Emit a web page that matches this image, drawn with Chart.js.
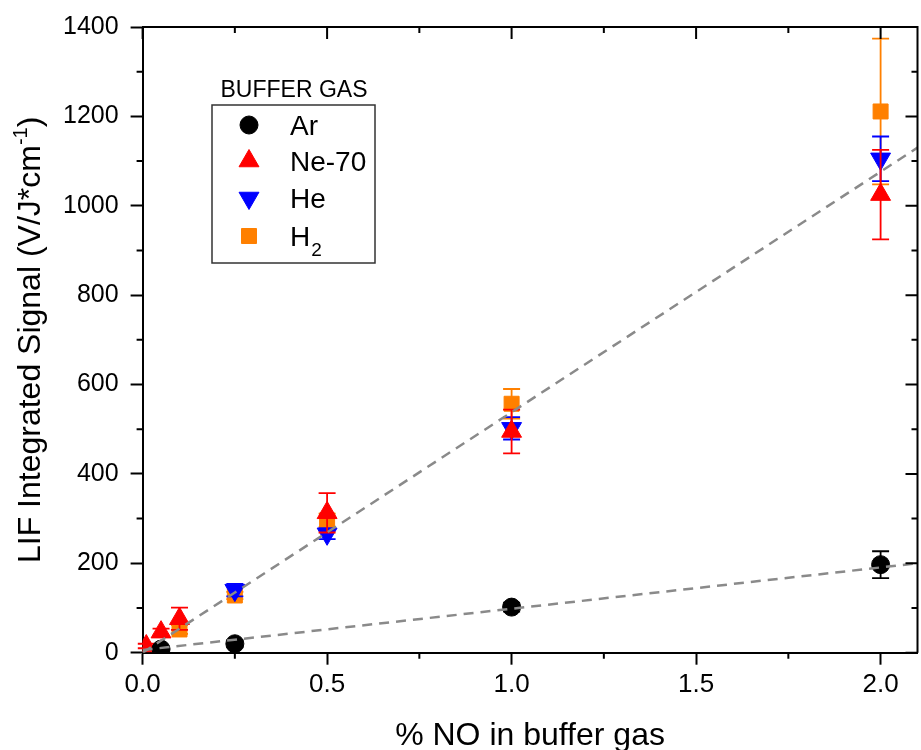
<!DOCTYPE html>
<html>
<head>
<meta charset="utf-8">
<script src="https://cdn.jsdelivr.net/npm/chart.js@4.4.1/dist/chart.umd.min.js"></script>
<style>
  html, body { margin: 0; padding: 0; background: #fff; overflow: hidden; }
  canvas { display: block; }
</style>
</head>
<body>
<canvas id="chart" width="930" height="750"></canvas>
<script>
const FONT = "'Liberation Sans', Arial, sans-serif";

// tick positions
const xTicks = [0, 0.5, 1.0, 1.5, 2.0];
const xMinor = [0.25, 0.75, 1.25, 1.75];
const yTicks = [0, 200, 400, 600, 800, 1000, 1200, 1400];
const yMinor = [100, 300, 500, 700, 900, 1100, 1300];

// % NO, signal, error
const arX = [0.05, 0.25, 1.0, 2.0];
const arY = [8, 20, 102, 197];
const arErr = [4, 8, 10, 30];

const neX = [0.01, 0.05, 0.1, 0.5, 1.0, 2.0];
const neY = [15, 46, 76, 313, 495, 1025];
const neErr = [5, 8, 25, 44, 49, 100];

const heX = [0.25, 0.5, 1.0, 2.0];
const heY = [140, 266, 502, 1105];
const heErr = [14, 12, 25, 50];

const h2X = [0.1, 0.25, 0.5, 1.0, 2.0];
const h2Y = [52, 128, 296, 557, 1211];
const h2Err = [10, 8, 15, 33, 163];

// linear fits
const fitX = [0, 2.1];
const fitHigh = [0, 1130];
const fitLow = [6, 200];

const pts = (xs, ys) => xs.map((v, i) => ({ x: v, y: ys[i] }));

function series(label, xs, ys, errs, color, style, radius, rotation) {
  return {
    label, data: pts(xs, ys), errors: errs,
    showLine: false,
    pointStyle: style, pointRadius: radius, pointHoverRadius: radius,
    pointRotation: rotation || 0,
    backgroundColor: color, borderColor: color, pointBorderWidth: 1
  };
}

function fit(ys) {
  return {
    label: "fit", data: pts(fitX, ys), showLine: true, pointRadius: 0,
    borderColor: "#8a8a8a", borderWidth: 2.5, borderDash: [10, 7], fill: false
  };
}

const series_ = [
  series("Ar", arX, arY, arErr, "#000000", "circle", 9),
  series("Ne-70", neX, neY, neErr, "#ff0000", "triangle", 11.5),
  series("He", heX, heY, heErr, "#0000ff", "triangle", 11.5, 180),
  series("H2", h2X, h2Y, h2Err, "#ff8000", "rect", 10.6)
];

// error bars under each series' own markers
const errorBars = {
  id: "errorBars",
  beforeDatasetDraw(chart, args) {
    const ds = chart.data.datasets[args.index];
    if (!ds.errors) return;
    const { ctx } = chart;
    const y = chart.scales.y;
    ctx.save();
    ctx.strokeStyle = ds.borderColor;
    ctx.lineWidth = 1.8;
    ctx.beginPath();
    args.meta.data.forEach((pt, i) => {
      const v = ds.data[i].y, e = ds.errors[i];
      const top = y.getPixelForValue(v + e), bot = y.getPixelForValue(v - e);
      ctx.moveTo(pt.x, top); ctx.lineTo(pt.x, bot);
      ctx.moveTo(pt.x - 8.5, top); ctx.lineTo(pt.x + 8.5, top);
      ctx.moveTo(pt.x - 8.5, bot); ctx.lineTo(pt.x + 8.5, bot);
    });
    ctx.stroke();
    ctx.restore();
  }
};

// box frame, inward top/right ticks, minor ticks
const frame = {
  id: "frame",
  afterDraw(chart) {
    const { ctx, chartArea: a, scales: { x, y } } = chart;
    ctx.save();
    ctx.strokeStyle = "#000";
    ctx.lineWidth = 2;
    ctx.beginPath();
    ctx.moveTo(a.left, a.top); ctx.lineTo(a.right, a.top); ctx.lineTo(a.right, a.bottom);
    xTicks.forEach(v => {
      const px = x.getPixelForValue(v);
      ctx.moveTo(px, a.top); ctx.lineTo(px, a.top + 12);
    });
    xMinor.forEach(v => {
      const px = x.getPixelForValue(v);
      ctx.moveTo(px, a.top); ctx.lineTo(px, a.top + 6);
      ctx.moveTo(px, a.bottom); ctx.lineTo(px, a.bottom + 6);
    });
    yTicks.forEach(v => {
      const py = y.getPixelForValue(v);
      ctx.moveTo(a.right, py); ctx.lineTo(a.right - 12, py);
    });
    yMinor.forEach(v => {
      const py = y.getPixelForValue(v);
      ctx.moveTo(a.left, py); ctx.lineTo(a.left - 6, py);
      ctx.moveTo(a.right, py); ctx.lineTo(a.right - 6, py);
    });
    ctx.stroke();

    // axis titles
    ctx.fillStyle = "#000";
    ctx.textBaseline = "alphabetic";
    ctx.textAlign = "center";
    ctx.font = "32px " + FONT;
    ctx.fillText("% NO in buffer gas", (a.left + a.right) / 2, 745);

    ctx.save();
    ctx.translate(40, (a.top + a.bottom) / 2);
    ctx.rotate(-Math.PI / 2);
    ctx.textAlign = "left";
    const main = "LIF Integrated Signal (V/J*cm", sup = "-1", close = ")";
    ctx.font = "32px " + FONT;
    const wMain = ctx.measureText(main).width, wClose = ctx.measureText(close).width;
    ctx.font = "20px " + FONT;
    const wSup = ctx.measureText(sup).width;
    let cx = -(wMain + wSup + wClose) / 2;
    ctx.font = "32px " + FONT;
    ctx.fillText(main, cx, 0); cx += wMain;
    ctx.font = "20px " + FONT;
    ctx.fillText(sup, cx, -13); cx += wSup;
    ctx.font = "32px " + FONT;
    ctx.fillText(close, cx, 0);
    ctx.restore();
    ctx.restore();
  }
};

// boxed legend with title
const gasLegend = {
  id: "gasLegend",
  afterDraw(chart) {
    const { ctx } = chart;
    ctx.save();
    ctx.fillStyle = "#000";
    ctx.textAlign = "center";
    ctx.textBaseline = "alphabetic";
    ctx.font = "23px " + FONT;
    ctx.fillText("BUFFER GAS", 294, 97);
    ctx.strokeStyle = "#333";
    ctx.lineWidth = 1.5;
    ctx.strokeRect(212, 105, 163, 158);

    const rows = [125, 161, 198, 236];
    series_.forEach((ds, i) => {
      ctx.fillStyle = ds.backgroundColor;
      ctx.strokeStyle = ds.borderColor;
      ctx.lineWidth = 1;
      Chart.helpers.drawPoint(ctx, {
        pointStyle: ds.pointStyle, radius: ds.pointRadius,
        rotation: ds.pointRotation, borderWidth: 1
      }, 249, rows[i]);
      ctx.fillStyle = "#000";
      ctx.textAlign = "left";
      ctx.font = "28px " + FONT;
      const base = rows[i] + 10;
      if (ds.label === "H2") {
        ctx.fillText("H", 290, base);
        const w = ctx.measureText("H").width;
        ctx.font = "19px " + FONT;
        ctx.fillText("2", 290 + w + 1, base + 10);
      } else {
        ctx.fillText(ds.label, 290, base);
      }
    });
    ctx.restore();
  }
};

new Chart(document.getElementById("chart"), {
  type: "scatter",
  data: { datasets: [fit(fitHigh), fit(fitLow), ...series_] },
  options: {
    responsive: false,
    animation: false,
    layout: { padding: { left: 0, top: 22.7, right: 4.3, bottom: 0 } },
    plugins: { legend: { display: false }, tooltip: { enabled: false } },
    scales: {
      x: {
        type: "linear", min: 0, max: 2.1,
        afterBuildTicks: s => { s.ticks = xTicks.map(v => ({ value: v })); },
        afterFit: s => { s.height = 750 - 652.7; },
        ticks: {
          callback: v => v.toFixed(1), color: "#000", padding: 5,
          maxRotation: 0, autoSkip: false, font: { family: FONT, size: 26 }
        },
        grid: { drawOnChartArea: false, tickLength: 12, tickWidth: 2, tickColor: "#000" },
        border: { color: "#000", width: 2 }
      },
      y: {
        type: "linear", min: 0, max: 1400,
        afterBuildTicks: s => { s.ticks = yTicks.map(v => ({ value: v })); },
        afterFit: s => { s.width = 142.6; },
        ticks: {
          callback: v => String(v), color: "#000", padding: 12,
          autoSkip: false, font: { family: FONT, size: 25 }
        },
        grid: { drawOnChartArea: false, tickLength: 12, tickWidth: 2, tickColor: "#000" },
        border: { color: "#000", width: 2 }
      }
    }
  },
  plugins: [errorBars, frame, gasLegend]
});
</script>
</body>
</html>
